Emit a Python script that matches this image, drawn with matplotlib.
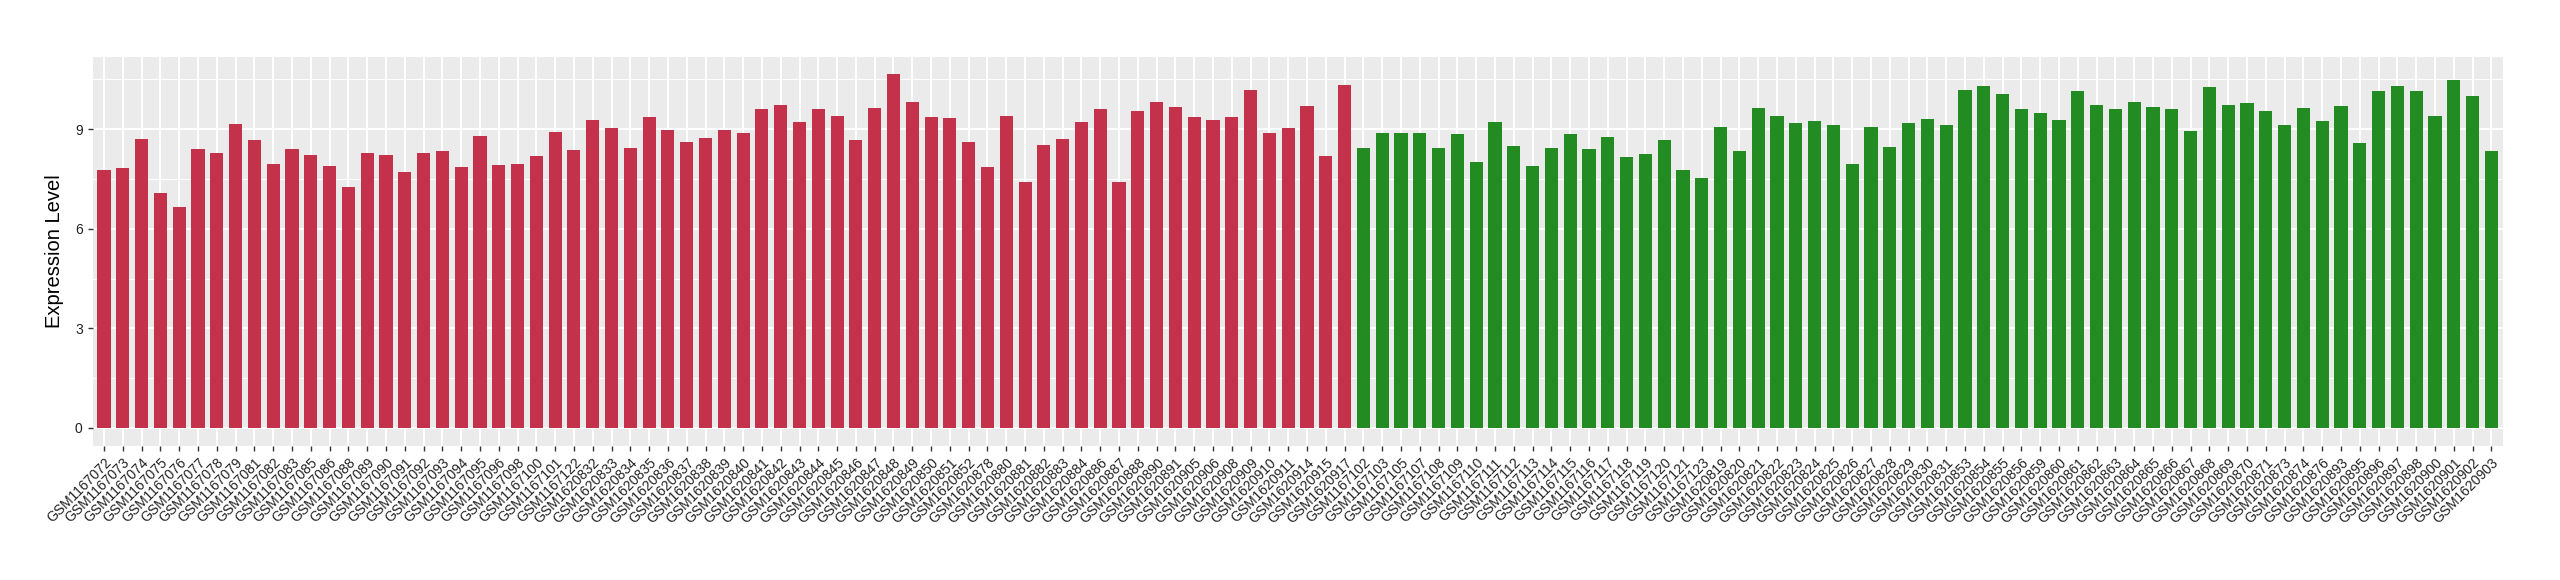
import matplotlib
matplotlib.use("Agg")
import matplotlib.pyplot as plt
import numpy as np

# sample ids and expression values
red_samples = [
    "GSM1167072", "GSM1167073", "GSM1167074", "GSM1167075", "GSM1167076", "GSM1167077",
    "GSM1167078", "GSM1167079", "GSM1167081", "GSM1167082", "GSM1167083", "GSM1167085",
    "GSM1167086", "GSM1167088", "GSM1167089", "GSM1167090", "GSM1167091", "GSM1167092",
    "GSM1167093", "GSM1167094", "GSM1167095", "GSM1167096", "GSM1167098", "GSM1167100",
    "GSM1167101", "GSM1167122",
    "GSM1620832", "GSM1620833", "GSM1620834", "GSM1620835", "GSM1620836", "GSM1620837",
    "GSM1620838", "GSM1620839", "GSM1620840", "GSM1620841", "GSM1620842", "GSM1620843",
    "GSM1620844", "GSM1620845", "GSM1620846", "GSM1620847", "GSM1620848", "GSM1620849",
    "GSM1620850", "GSM1620851", "GSM1620852",
    "GSM1620878", "GSM1620880", "GSM1620881", "GSM1620882", "GSM1620883", "GSM1620884",
    "GSM1620886", "GSM1620887", "GSM1620888", "GSM1620890", "GSM1620891", "GSM1620905",
    "GSM1620906", "GSM1620908", "GSM1620909", "GSM1620910", "GSM1620911", "GSM1620914",
    "GSM1620915", "GSM1620917",
]
red_values = [
    7.78, 7.83, 8.71, 7.09, 6.66, 8.40, 8.29, 9.15, 8.68, 7.95, 8.40, 8.22, 7.89, 7.26,
    8.29, 8.22, 7.72, 8.29, 8.35, 7.86, 8.79, 7.92, 7.95, 8.19, 8.92, 8.38,
    9.28, 9.03, 8.43, 9.36, 8.98, 8.60, 8.73, 8.98, 8.89, 9.61, 9.72, 9.22, 9.61, 9.39,
    8.68, 9.64, 10.65, 9.82, 9.36, 9.34, 8.60,
    7.86, 9.39, 7.42, 8.52, 8.71, 9.22, 9.61, 7.42, 9.55, 9.82, 9.66, 9.36, 9.28, 9.36,
    10.18, 8.89, 9.03, 9.69, 8.19, 10.32,
]

green_samples = [
    "GSM1167102", "GSM1167103", "GSM1167105", "GSM1167107", "GSM1167108", "GSM1167109",
    "GSM1167110", "GSM1167111", "GSM1167112", "GSM1167113", "GSM1167114", "GSM1167115",
    "GSM1167116", "GSM1167117", "GSM1167118", "GSM1167119", "GSM1167120", "GSM1167121",
    "GSM1167123",
    "GSM1620819", "GSM1620820", "GSM1620821", "GSM1620822", "GSM1620823", "GSM1620824",
    "GSM1620825", "GSM1620826", "GSM1620827", "GSM1620828", "GSM1620829", "GSM1620830",
    "GSM1620831",
    "GSM1620853", "GSM1620854", "GSM1620855", "GSM1620856", "GSM1620859", "GSM1620860",
    "GSM1620861", "GSM1620862", "GSM1620863", "GSM1620864", "GSM1620865", "GSM1620866",
    "GSM1620867", "GSM1620868", "GSM1620869", "GSM1620870", "GSM1620871", "GSM1620873",
    "GSM1620874", "GSM1620876", "GSM1620893", "GSM1620895", "GSM1620896", "GSM1620897",
    "GSM1620898", "GSM1620900", "GSM1620901", "GSM1620902", "GSM1620903",
]
green_values = [
    8.43, 8.89, 8.89, 8.89, 8.43, 8.85, 8.02, 9.22, 8.49, 7.89, 8.43, 8.85, 8.40, 8.76,
    8.16, 8.25, 8.68, 7.78, 7.53,
    9.06, 8.35, 9.64, 9.39, 9.19, 9.25, 9.12, 7.95, 9.06, 8.46, 9.19, 9.31, 9.12,
    10.18, 10.29, 10.05, 9.61, 9.49, 9.28, 10.15, 9.72, 9.61, 9.82, 9.66, 9.61, 8.95,
    10.27, 9.72, 9.79, 9.55, 9.12, 9.64, 9.25, 9.69, 8.59, 10.15, 10.29, 10.15, 9.39,
    10.48, 9.99, 8.35,
]

y_ticks = [0, 3, 6, 9]

plt.rcParams["font.family"] = ["Liberation Sans", "DejaVu Sans"]

samples = red_samples + green_samples
values = red_values + green_values
colors = ["#C4314B"] * len(red_values) + ["#228B22"] * len(green_values)
x = np.arange(len(samples))

fig = plt.figure(figsize=(25.6, 5.8), dpi=100)
ax = fig.add_axes([0.0362, 0.2316, 0.9414, 0.6707])
ax.set_facecolor("#EBEBEB")

ax.bar(x, values, width=0.7, color=colors, zorder=3)

# ggplot-style limits (5% on y, 0.6 units on discrete x)
vmax = max(values)
ax.set_ylim(-0.05 * vmax, 1.05 * vmax)
ax.set_xlim(-0.6, len(samples) - 0.4)

ax.set_yticks(y_ticks)
ax.set_yticks([1.5, 4.5, 7.5, 10.5], minor=True)
ax.set_xticks(x)
ax.set_xticklabels(samples, rotation=45, ha="right", va="top",
                   rotation_mode="anchor", fontsize=10, color="#222222")
ax.tick_params(axis="y", labelsize=10, labelcolor="#222222")
ax.tick_params(which="major", length=3.7, width=1, color="#333333")
ax.tick_params(which="minor", length=0)

ax.grid(True, which="major", color="white", linewidth=1.4, zorder=0)
ax.grid(True, which="minor", axis="y", color="white", linewidth=0.7, zorder=0)
ax.set_axisbelow(True)
for s in ax.spines.values():
    s.set_visible(False)

ax.set_ylabel("Expression Level", fontsize=14.5, labelpad=8)

fig.savefig("out.png", dpi=100)
